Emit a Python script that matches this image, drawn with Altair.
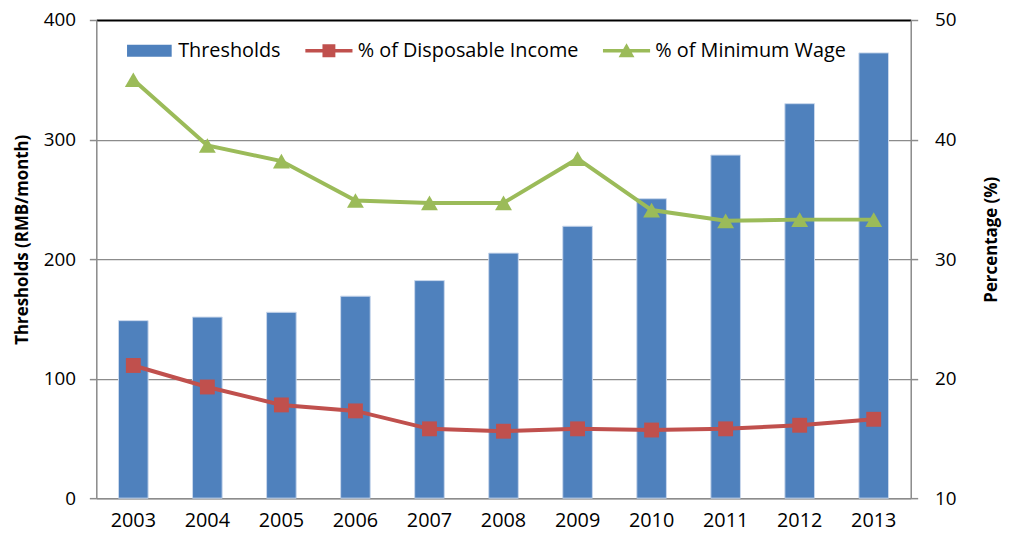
import altair as alt
import pandas as pd

# ---- data ----
years = ["2003", "2004", "2005", "2006", "2007", "2008", "2009", "2010", "2011", "2012", "2013"]
thresholds = [148.5, 151.5, 155.5, 169.0, 182.0, 205.0, 227.5, 250.5, 287.0, 330.0, 372.5]
disposable_pct = [21.1, 19.3, 17.8, 17.3, 15.8, 15.6, 15.8, 15.7, 15.8, 16.1, 16.6]
min_wage_pct = [45.0, 39.5, 38.2, 34.9, 34.7, 34.7, 38.4, 34.1, 33.2, 33.3, 33.3]

series_names = ["Thresholds", "% of Disposable Income", "% of Minimum Wage"]
series_colors = ["#4F81BD", "#C0504D", "#9BBB59"]
left_ticks = [0, 100, 200, 300, 400]
right_ticks = [10, 20, 30, 40, 50]

# legend glyphs: bar swatch, line+square, line+triangle
legend_shapes = [
    "M-0.9,-0.24H0.9V0.24H-0.9Z",
    "M-0.95,-0.07H0.95V0.07H-0.95Z M-0.26,-0.26H0.26V0.26H-0.26Z",
    "M-0.95,-0.07H0.95V0.07H-0.95Z M0,-0.3L0.32,0.26H-0.32Z",
]

bars_df = pd.DataFrame({"year": years, "value": thresholds})
disp_df = pd.DataFrame({"year": years, "pct": disposable_pct})
minw_df = pd.DataFrame({"year": years, "pct": min_wage_pct})
legend_df = pd.DataFrame({"series": series_names})

FONT = "Open Sans"
GRAY = "#8C8C8C"

X = alt.X(
    "year:O",
    sort=years,
    scale=alt.Scale(paddingInner=0.6, paddingOuter=0.3),
    axis=alt.Axis(
        title=None, labelAngle=0, ticks=False, labelPadding=13,
        labelFontSize=20, labelFont=FONT, labelColor="#000000",
        domainColor=GRAY, domainWidth=1.5, grid=False,
    ),
)

Y_left = alt.Y(
    "value:Q",
    scale=alt.Scale(domain=[0, 400], nice=False),
    axis=alt.Axis(
        values=left_ticks, title="Thresholds (RMB/month)",
        titleFont=FONT, titleFontSize=17, titleFontWeight="bold", titleColor="#000000",
        titleX=-74, titleY=221, titleAngle=270, titleBaseline="middle", titleAlign="center",
        labelFont=FONT, labelFontSize=19, labelColor="#000000", labelPadding=14,
        tickSize=7, tickColor=GRAY, tickWidth=1.5,
        domainColor=GRAY, domainWidth=1.5,
        grid=True,
        gridColor={"condition": {"test": "datum.value === 400", "value": "#000000"}, "value": GRAY},
        gridWidth={"condition": {"test": "datum.value === 400", "value": 2}, "value": 1.2},
    ),
)

Y_right = alt.Y(
    "pct:Q",
    scale=alt.Scale(domain=[10, 50], nice=False),
    axis=alt.Axis(
        orient="right", values=right_ticks, title="Percentage (%)",
        titleFont=FONT, titleFontSize=17, titleFontWeight="bold", titleColor="#000000",
        titleX=81, titleY=221, titleAngle=270, titleBaseline="middle", titleAlign="center",
        labelFont=FONT, labelFontSize=19, labelColor="#000000", labelPadding=17,
        tickSize=7, tickColor=GRAY, tickWidth=1.5,
        domainColor=GRAY, domainWidth=1.5, grid=False,
    ),
)

bars = alt.Chart(bars_df).mark_bar(
    color=series_colors[0], stroke="#C9D8EC", strokeWidth=1
).encode(x=X, y=Y_left)

disp_line = alt.Chart(disp_df).mark_line(
    color=series_colors[1], strokeWidth=4,
    point=alt.OverlayMarkDef(shape="square", size=225, filled=True,
                             color=series_colors[1], opacity=1),
).encode(x=X, y=Y_right)

minw_line = alt.Chart(minw_df).mark_line(
    color=series_colors[2], strokeWidth=4,
    point=alt.OverlayMarkDef(shape="triangle-up", size=290, filled=True,
                             color=series_colors[2], opacity=1),
).encode(x=X, y=Y_right)

lines = alt.layer(disp_line, minw_line)

leg = alt.Legend(
    title=None, orient="none", legendX=28.5, legendY=6, direction="horizontal",
    symbolSize=2500, symbolStrokeWidth=0, symbolOpacity=1,
    labelFont=FONT, labelFontSize=20, labelColor="#000000", labelOffset=4,
    labelLimit=400, columnPadding=23, padding=0,
)

legend_layer = alt.Chart(legend_df).transform_filter("false").mark_point(
    filled=True, opacity=1
).encode(
    color=alt.Color("series:N", scale=alt.Scale(domain=series_names, range=series_colors), legend=leg),
    shape=alt.Shape("series:N", scale=alt.Scale(domain=series_names, range=legend_shapes), legend=leg),
)

chart = alt.layer(bars, lines, legend_layer).resolve_scale(
    y="independent"
).properties(
    width=821, height=482,
    padding={"left": 89, "top": 10, "right": 93, "bottom": 32},
    autosize=alt.AutoSizeParams(type="none"),
).configure_view(stroke=None).configure(background="white")

chart.save("out.html", embed_options={"renderer": "svg", "actions": False})
